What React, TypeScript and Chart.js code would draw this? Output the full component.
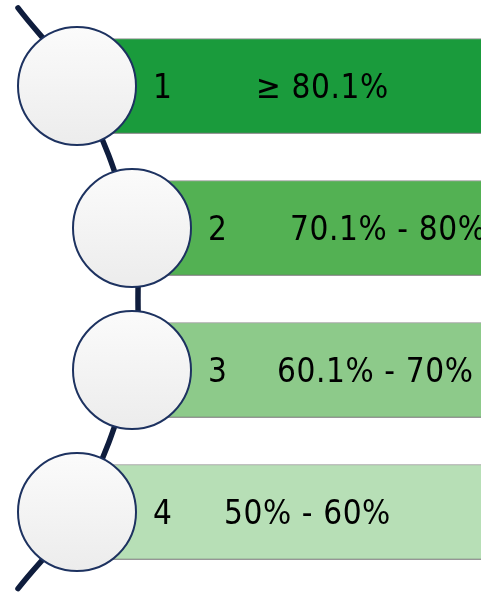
import React, { useEffect, useRef } from 'react';
import { Chart, registerables } from 'chart.js';

Chart.register(...registerables);

// Tier data
const tiers = ['1', '2', '3', '4'];
const ranges = ['≥ 80.1%', '70.1% - 80%', '60.1% - 70%', '50% - 60%'];
const tierIndex = [0, 1, 2, 3];
const circleX = [77, 132, 132, 77];
const barEnd = [500, 500, 500, 500];
const barColors = ['#1a9b3c', '#53b153', '#8dca8a', '#b7dfb6'];
// spine curve passing behind the circles
const spineX = [18, 77, 132, 138, 132, 77, 18];
const spineY = [-0.55, 0, 1, 1.5, 2, 3, 3.54];
// horizontal offsets of the range labels from the circle centre
const rangeOffset = [179, 158, 145, 147];

const FONT_SIZE = 33;
const FONT = `${FONT_SIZE}px "DejaVu Sans Condensed", "DejaVu Sans", Tahoma, sans-serif`;

const shadowPlugin = {
  id: 'barShadow',
  beforeDatasetDraw(chart: any, args: any) {
    if (args.meta.type === 'bar') {
      const ctx = chart.ctx;
      ctx.save();
      ctx.shadowColor = 'rgba(0,0,0,0.35)';
      ctx.shadowBlur = 4;
      ctx.shadowOffsetX = 0;
      ctx.shadowOffsetY = 3;
    }
  },
  afterDatasetDraw(chart: any, args: any) {
    if (args.meta.type === 'bar') chart.ctx.restore();
  },
};

const labelPlugin = {
  id: 'tierLabels',
  afterDatasetsDraw(chart: any) {
    const ctx = chart.ctx;
    const xs = chart.scales.x;
    const ys = chart.scales.y;
    ctx.save();
    ctx.font = FONT;
    try { (ctx as any).letterSpacing = '0.6px'; } catch (e) { /* ignore */ }
    ctx.fillStyle = '#000';
    ctx.textBaseline = 'alphabetic';
    ctx.textAlign = 'left';
    tiers.forEach((t, i) => {
      const cx = xs.getPixelForValue(circleX[i]);
      const cy = ys.getPixelForValue(tierIndex[i]);
      const by = cy + FONT_SIZE * 0.3645;
      ctx.fillText(t, cx + 76, by);
      ctx.fillText(ranges[i], cx + rangeOffset[i], by);
    });
    ctx.restore();
  },
};

export default function App() {
  const ref = useRef<HTMLCanvasElement>(null);
  useEffect(() => {
    if (!ref.current) return;
    const chart = new Chart(ref.current, {
      type: 'scatter',
      data: {
        datasets: [
          {
            type: 'line',
            data: spineX.map((x, i) => ({ x, y: spineY[i] })),
            borderColor: '#0f1d3d',
            borderWidth: 5.5,
            borderCapStyle: 'round',
            tension: 0.4,
            pointRadius: 0,
            fill: false,
            clip: false,
            order: 3,
          } as any,
          {
            type: 'bar',
            indexAxis: 'y',
            data: tierIndex.map((y, i) => ({ y, x: [circleX[i], barEnd[i]] })),
            backgroundColor: barColors,
            borderColor: 'rgba(70,70,70,0.55)',
            borderWidth: 1,
            borderSkipped: false,
            barThickness: 95,
            order: 2,
          } as any,
          {
            type: 'scatter',
            data: tierIndex.map((y, i) => ({ x: circleX[i], y })),
            pointRadius: 59,
            pointBorderWidth: 2,
            pointBorderColor: '#1d3260',
            pointBackgroundColor: (c: any) => {
              const ch = c.chart;
              const v = c.raw && typeof c.raw.y === 'number' ? c.raw.y : null;
              if (v === null || !ch.scales || !ch.scales.y) return '#f3f3f3';
              const py = ch.scales.y.getPixelForValue(v);
              if (!Number.isFinite(py)) return '#f3f3f3';
              const g = ch.ctx.createLinearGradient(0, py - 59, 0, py + 59);
              g.addColorStop(0, '#fbfbfb');
              g.addColorStop(1, '#ececec');
              return g;
            },
            clip: false,
            order: 1,
          } as any,
        ],
      },
      options: {
        animation: false,
        responsive: false,
        events: [],
        layout: { autoPadding: false, padding: { top: 15, bottom: 10, left: 0, right: 0 } },
        elements: { line: { capBezierPoints: false } },
        scales: {
          x: { type: 'linear', min: 0, max: 481, display: false, offset: false },
          y: { type: 'linear', min: -0.5, max: 3.5, reverse: true, display: false, offset: false },
        },
        plugins: { legend: { display: false }, tooltip: { enabled: false } },
      },
      plugins: [shadowPlugin, labelPlugin],
    });
    return () => chart.destroy();
  }, []);
  return (
    <div style={{ position: 'absolute', left: 0, top: 0, width: 481, height: 593, background: '#fff' }}>
      <canvas ref={ref} width={481} height={593} />
    </div>
  );
}
